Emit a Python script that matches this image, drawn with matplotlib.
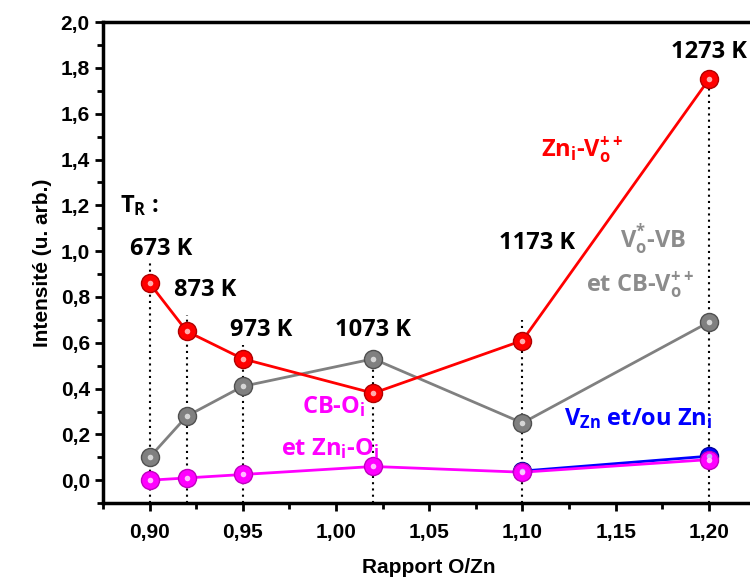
import numpy as np
import matplotlib
matplotlib.use("Agg")
import matplotlib.pyplot as plt
from matplotlib.ticker import MultipleLocator, FuncFormatter

# ---- data ----
ratio = [0.90, 0.92, 0.95, 1.02, 1.10, 1.20]
zn_vo = [0.86, 0.65, 0.53, 0.38, 0.61, 1.75]        # red
vo_vb = [0.10, 0.28, 0.41, 0.53, 0.25, 0.69]        # gray
cb_oi = [0.00, 0.01, 0.025, 0.06, 0.035, 0.09]      # magenta
vzn_ratio = [1.10, 1.20]
vzn = [0.04, 0.105]                                 # blue
drop_top = [0.96, 0.72, 0.59, 0.53, 0.70, 1.75]     # dotted guide heights
temps = ["673 K", "873 K", "973 K", "1073 K", "1173 K", "1273 K"]
temp_x = [0.906, 0.93, 0.96, 1.02, 1.108, 1.20]
temp_y = [1.01, 0.83, 0.655, 0.655, 1.035, 1.87]

plt.rcParams["font.family"] = ["Liberation Sans", "DejaVu Sans"]
plt.rcParams["font.weight"] = "bold"
plt.rcParams["mathtext.fontset"] = "custom"
plt.rcParams["mathtext.rm"] = "Open Sans:bold"
plt.rcParams["mathtext.it"] = "Open Sans:bold"
plt.rcParams["mathtext.bf"] = "Open Sans:bold"

fig = plt.figure(figsize=(7.5, 5.83), dpi=100)
ax = fig.add_axes([0.1373, 0.137, 0.87, 0.825])

for xv, top in zip(ratio, drop_top):
    ax.plot([xv, xv], [-0.1, top], ls=(0, (1, 2)), color="k", lw=1.5, zorder=1)


def series(x, y, col, dark, light):
    ax.plot(x, y, "-", color=col, lw=2, zorder=2)
    ax.plot(x, y, "o", ms=13, mfc=col, mec=dark, mew=1, zorder=3)
    ax.plot(x, y, "o", ms=4, mfc=light, mec="none", alpha=0.9, zorder=4)


series(ratio, vo_vb, "#808080", "#505050", "#e0e0e0")
series(ratio, zn_vo, "#ff0000", "#b00000", "#ffc0c0")
series(vzn_ratio, vzn, "#0000ff", "#0000a0", "#c0c0ff")
series(ratio, cb_oi, "#ff00ff", "#c000c0", "#ffd0ff")

ax.set_xlim(0.875, 1.225)
ax.set_ylim(-0.1, 2.0)
ax.xaxis.set_major_locator(MultipleLocator(0.05))
ax.xaxis.set_minor_locator(MultipleLocator(0.025))
ax.yaxis.set_major_locator(MultipleLocator(0.2))
ax.yaxis.set_minor_locator(MultipleLocator(0.1))
ax.xaxis.set_major_formatter(FuncFormatter(lambda v, p: f"{v:.2f}".replace(".", ",")))
ax.yaxis.set_major_formatter(FuncFormatter(lambda v, p: f"{v:.1f}".replace(".", ",")))
ax.tick_params(which="both", direction="out", width=2, labelsize=15)
ax.tick_params(which="major", length=6)
ax.tick_params(which="minor", length=4)
ax.tick_params(axis="x", pad=8)
for s in ["left", "bottom", "top"]:
    ax.spines[s].set_linewidth(2.5)
ax.spines["right"].set_visible(False)

ax.set_xlabel("Rapport O/Zn", fontsize=15, fontweight="bold", labelpad=12)
ax.set_ylabel("Intensité (u. arb.)", fontsize=15, fontweight="bold", labelpad=6)

tf = dict(fontsize=17, fontweight="bold", family="Open Sans")
ax.text(0.884, 1.2, r"T$_\mathrm{R}$ :", ha="left", va="center", **tf)
for t, xv, yv in zip(temps, temp_x, temp_y):
    ax.text(xv, yv, t, ha="center", va="center", **tf)

ax.text(1.11, 1.44, r"Zn$_\mathrm{i}$-V$_\mathrm{o}^\mathrm{++}$", color="#ff0000",
        ha="left", va="center", **tf)
ax.text(1.17, 1.05, r"V$_\mathrm{o}^\mathrm{*}$-VB", color="#8c8c8c",
        ha="center", va="center", **tf)
ax.text(1.163, 0.85, r"et CB-V$_\mathrm{o}^\mathrm{++}$", color="#8c8c8c",
        ha="center", va="center", **tf)
ax.text(0.999, 0.32, r"CB-O$_\mathrm{i}$", color="#ff00ff", ha="center", va="center", **tf)
ax.text(0.997, 0.14, r"et Zn$_\mathrm{i}$-O$_\mathrm{i}$", color="#ff00ff",
        ha="center", va="center", **tf)
ax.text(1.162, 0.27, r"V$_\mathrm{Zn}$ et/ou Zn$_\mathrm{i}$", color="#0000ff",
        ha="center", va="center", **tf)

fig.savefig("out.png", dpi=100)
